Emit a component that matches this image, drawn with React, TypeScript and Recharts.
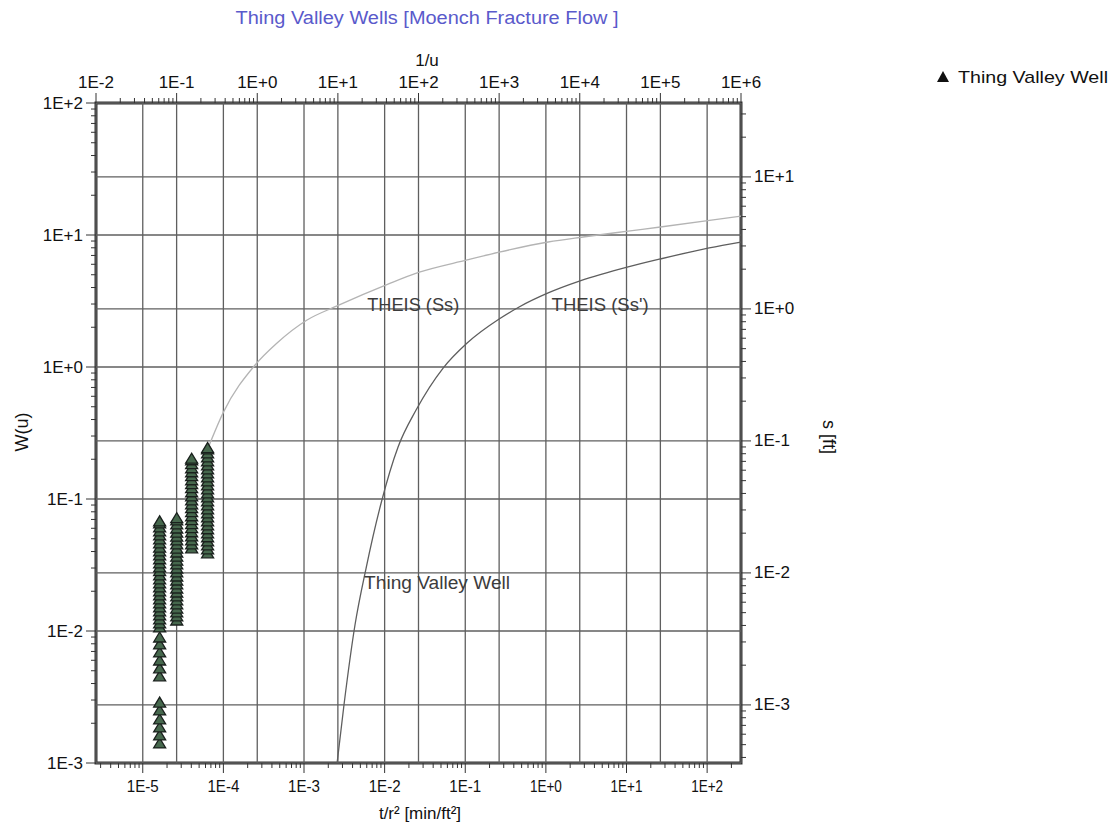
import React from 'react';
import {
  ComposedChart, Line, Scatter, XAxis, YAxis, ReferenceLine, ReferenceArea, ReferenceDot,
} from 'recharts';

const FONT = '"Liberation Sans", Arial, Helvetica, sans-serif';

// axis decades
const invUTicks = [1e-2, 1e-1, 1e0, 1e1, 1e2, 1e3, 1e4, 1e5, 1e6];
const invULabels = ['1E-2', '1E-1', '1E+0', '1E+1', '1E+2', '1E+3', '1E+4', '1E+5', '1E+6'];
const timeTicks = [1e-5, 1e-4, 1e-3, 1e-2, 1e-1, 1e0, 1e1, 1e2];
const timeLabels = ['1E-5', '1E-4', '1E-3', '1E-2', '1E-1', '1E+0', '1E+1', '1E+2'];
const wTicks = [1e-3, 1e-2, 1e-1, 1e0, 1e1, 1e2];
const wLabels = ['1E-3', '1E-2', '1E-1', '1E+0', '1E+1', '1E+2'];
const sTicks = [1e-3, 1e-2, 1e-1, 1e0, 1e1];
const sLabels = ['1E-3', '1E-2', '1E-1', '1E+0', '1E+1'];

const invUDomain = [1e-2, 1e6];
const timeDomain = [10 ** -5.58, 10 ** 2.42];
const wDomain = [1e-3, 1e2];
const sDomain = [10 ** -3.44, 10 ** 1.56];

// type curve, specific storage Ss
const theisSsInvU = [0.25, 0.377, 0.94, 1.76, 4.15, 9.77, 41.2, 100, 401, 1000, 4060, 11000, 39800, 100000, 452000, 1000000];
const theisSsW = [0.25, 0.449, 1.035, 1.52, 2.27, 2.9, 4.22, 5.2, 6.47, 7.41, 8.85, 9.66, 10.7, 11.5, 13.0, 13.9];

// type curve, specific storage Ss'
const theisSs2InvU = [9.78, 11.9, 16.3, 22.4, 34.4, 55.8, 93.3, 202, 401, 1000, 1770, 4060, 10100, 39800, 99500, 403000, 1000000];
const theisSs2W = [0.001, 0.00275, 0.0111, 0.03, 0.0933, 0.248, 0.472, 0.982, 1.52, 2.31, 2.85, 3.64, 4.49, 5.73, 6.58, 7.98, 8.85];

// observed drawdown, Thing Valley Well, one stack per t/r²
const wellTimes = [1.62e-5, 2.64e-5, 4.04e-5, 6.37e-5];
const drawdownA = [
  5.15e-4, 5.93e-4, 6.81e-4, 7.83e-4, 9.16e-4, 1.05e-3,
  1.66e-3, 1.91e-3, 2.19e-3, 2.52e-3, 2.9e-3, 3.27e-3,
  3.9e-3, 4.18e-3, 4.48e-3, 4.81e-3, 5.16e-3, 5.53e-3, 5.93e-3, 6.36e-3, 6.82e-3,
  7.31e-3, 7.84e-3, 8.41e-3, 9.01e-3, 9.67e-3, 1.04e-2, 1.11e-2, 1.19e-2, 1.28e-2,
  1.37e-2, 1.47e-2, 1.57e-2, 1.69e-2, 1.81e-2, 1.94e-2, 2.08e-2, 2.23e-2, 2.39e-2, 2.48e-2,
];
const drawdownB = [
  4.4e-3, 4.72e-3, 5.06e-3, 5.42e-3, 5.82e-3, 6.24e-3, 6.69e-3, 7.17e-3, 7.69e-3,
  8.25e-3, 8.84e-3, 9.48e-3, 1.02e-2, 1.09e-2, 1.17e-2, 1.25e-2, 1.34e-2, 1.44e-2,
  1.54e-2, 1.66e-2, 1.78e-2, 1.9e-2, 2.04e-2, 2.19e-2, 2.35e-2, 2.52e-2, 2.62e-2,
];
const drawdownC = [
  1.55e-2, 1.66e-2, 1.78e-2, 1.91e-2, 2.05e-2, 2.2e-2, 2.36e-2, 2.53e-2, 2.71e-2,
  2.91e-2, 3.12e-2, 3.34e-2, 3.58e-2, 3.84e-2, 4.12e-2, 4.42e-2, 4.74e-2, 5.08e-2,
  5.45e-2, 5.84e-2, 6.26e-2, 6.72e-2, 7.2e-2, 7.4e-2,
];
const drawdownD = [
  1.42e-2, 1.52e-2, 1.63e-2, 1.75e-2, 1.88e-2, 2.01e-2, 2.16e-2, 2.31e-2, 2.48e-2,
  2.66e-2, 2.85e-2, 3.06e-2, 3.28e-2, 3.51e-2, 3.77e-2, 4.04e-2, 4.33e-2, 4.65e-2,
  4.98e-2, 5.34e-2, 5.73e-2, 6.14e-2, 6.59e-2, 7.06e-2, 7.57e-2, 8.12e-2, 8.7e-2, 8.9e-2,
];

const theisSs = theisSsInvU.map((inv, i) => ({ inv, w: theisSsW[i] }));
const theisSs2 = theisSs2InvU.map((inv, i) => ({ inv, w: theisSs2W[i] }));
const wellPoints = [drawdownA, drawdownB, drawdownC, drawdownD].flatMap((col, c) =>
  col.map((s) => ({ t: wellTimes[c], s })));

// log ticks 1..9 x 10^d inside a domain
const logTicks = (lo: number, hi: number) => {
  const out: number[] = [];
  for (let d = Math.floor(Math.log10(lo)); d <= Math.ceil(Math.log10(hi)); d += 1) {
    for (let k = 1; k < 10; k += 1) {
      const v = k * 10 ** d;
      if (v >= lo * 0.9999 && v <= hi * 1.0001) out.push(v);
    }
  }
  return out;
};

const majorIndex = (v: number, majors: number[]) =>
  majors.findIndex((m) => Math.abs(Math.log10(m) - Math.log10(v)) < 1e-6);

const TICK = '#333';

const makeTick = (side: 'top' | 'bottom' | 'left' | 'right', majors: number[], labels: string[]) =>
  (props: any) => {
    const { x, y, payload } = props;
    const i = majorIndex(payload.value, majors);
    const len = i < 0 ? 5 : 10;
    const dir = side === 'top' || side === 'left' ? -1 : 1;
    const vertical = side === 'top' || side === 'bottom';
    const line = vertical
      ? <line x1={x} x2={x} y1={y} y2={y + dir * len} stroke={TICK} strokeWidth={1} />
      : <line x1={x} x2={x + dir * len} y1={y} y2={y} stroke={TICK} strokeWidth={1} />;
    if (i < 0) return <g>{line}</g>;
    let text;
    if (side === 'top') {
      text = <text x={x} y={y - 21} textAnchor="middle" dominantBaseline="central" fontSize={17}>{labels[i]}</text>;
    } else if (side === 'bottom') {
      text = <text x={x} y={y + 23} textAnchor="middle" dominantBaseline="central" fontSize={17} textLength={32} lengthAdjust="spacingAndGlyphs">{labels[i]}</text>;
    } else if (side === 'left') {
      text = <text x={x - 13} y={y} textAnchor="end" dominantBaseline="central" fontSize={17}>{labels[i]}</text>;
    } else {
      text = <text x={x + 13} y={y} textAnchor="start" dominantBaseline="central" fontSize={17}>{labels[i]}</text>;
    }
    return <g fontFamily={FONT} fill="#111">{line}{text}</g>;
  };

const Triangle = (props: any) => {
  const { cx, cy } = props;
  if (cx == null || cy == null) return null;
  return (
    <polygon
      points={`${cx - 6},${cy + 5} ${cx + 6},${cy + 5} ${cx},${cy - 5}`}
      fill="#46684d"
      stroke="#1a201d"
      strokeWidth={1.3}
    />
  );
};

const tag = (text: string, width: number) => (props: any) => {
  const { viewBox } = props;
  const cx = viewBox.x + (viewBox.width || 0) / 2;
  const cy = viewBox.y + (viewBox.height || 0) / 2;
  return (
    <text x={cx} y={cy} textAnchor="middle" dominantBaseline="central" fontFamily={FONT}
      fontSize={18} fill="#3c3c3c" textLength={width} lengthAdjust="spacingAndGlyphs">
      {text}
    </text>
  );
};

const GRID = '#5f5f5f';

export default function App() {
  return (
    <div style={{ position: 'absolute', left: 0, top: 0, width: 1117, height: 829, background: '#fff' }}>
      <ComposedChart
        width={1117}
        height={829}
        margin={{ top: 63, right: 316, bottom: 26, left: 36 }}
      >
        <XAxis xAxisId="top" orientation="top" dataKey="inv" type="number" scale="log"
          domain={invUDomain} allowDataOverflow ticks={logTicks(invUDomain[0], invUDomain[1])}
          interval={0} tickSize={0} tickMargin={0} axisLine={false} tickLine={false} height={40}
          tick={makeTick('top', invUTicks, invULabels)} />
        <XAxis xAxisId="bottom" orientation="bottom" dataKey="t" type="number" scale="log"
          domain={timeDomain} allowDataOverflow ticks={logTicks(timeDomain[0], timeDomain[1])}
          interval={0} tickSize={0} tickMargin={0} axisLine={false} tickLine={false} height={40}
          tick={makeTick('bottom', timeTicks, timeLabels)} />
        <YAxis yAxisId="left" orientation="left" dataKey="w" type="number" scale="log"
          domain={wDomain} allowDataOverflow ticks={logTicks(wDomain[0], wDomain[1])}
          interval={0} tickSize={0} tickMargin={0} axisLine={false} tickLine={false} width={60}
          tick={makeTick('left', wTicks, wLabels)} />
        <YAxis yAxisId="right" orientation="right" dataKey="s" type="number" scale="log"
          domain={sDomain} allowDataOverflow ticks={logTicks(sDomain[0], sDomain[1])}
          interval={0} tickSize={0} tickMargin={0} axisLine={false} tickLine={false} width={60}
          tick={makeTick('right', sTicks, sLabels)} />

        {invUTicks.map((v) => (
          <ReferenceLine key={`gu${v}`} x={v} xAxisId="top" yAxisId="left" stroke={GRID} strokeWidth={1.3} />
        ))}
        {timeTicks.map((v) => (
          <ReferenceLine key={`gt${v}`} x={v} xAxisId="bottom" yAxisId="right" stroke={GRID} strokeWidth={1.3} />
        ))}
        {wTicks.map((v) => (
          <ReferenceLine key={`gw${v}`} y={v} xAxisId="top" yAxisId="left" stroke={GRID} strokeWidth={1.3} />
        ))}
        {sTicks.map((v) => (
          <ReferenceLine key={`gs${v}`} y={v} xAxisId="bottom" yAxisId="right" stroke={GRID} strokeWidth={1.3} />
        ))}

        <Line data={theisSs} dataKey="w" xAxisId="top" yAxisId="left" type="monotone"
          stroke="#b4b4b4" strokeWidth={1.3} dot={false} activeDot={false} isAnimationActive={false} />
        <Line data={theisSs2} dataKey="w" xAxisId="top" yAxisId="left" type="monotone"
          stroke="#5e5e5e" strokeWidth={1.3} dot={false} activeDot={false} isAnimationActive={false} />
        <Scatter data={wellPoints} xAxisId="bottom" yAxisId="right" shape={Triangle}
          isAnimationActive={false} />

        <ReferenceDot x={86} y={2.95} xAxisId="top" yAxisId="left" r={0} fill="none" stroke="none"
          label={tag('THEIS (Ss)', 92)} />
        <ReferenceDot x={17900} y={2.95} xAxisId="top" yAxisId="left" r={0} fill="none" stroke="none"
          label={tag("THEIS (Ss')", 97)} />
        <ReferenceDot x={170} y={0.0231} xAxisId="top" yAxisId="left" r={0} fill="none" stroke="none"
          label={tag('Thing Valley Well', 146)} />

        <ReferenceArea x1={invUDomain[0]} x2={invUDomain[1]} y1={wDomain[0]} y2={wDomain[1]}
          xAxisId="top" yAxisId="left" fill="none" stroke="#333" strokeWidth={3} ifOverflow="visible" />
      </ComposedChart>

      <svg width={1117} height={829} style={{ position: 'absolute', left: 0, top: 0, pointerEvents: 'none' }}
        fontFamily={FONT}>
        <text x={427} y={18} textAnchor="middle" dominantBaseline="central" fontSize={18} fill="#5a5acb"
          textLength={383} lengthAdjust="spacingAndGlyphs">
          Thing Valley Wells [Moench Fracture Flow ]
        </text>
        <text x={427} y={60} textAnchor="middle" dominantBaseline="central" fontSize={17} fill="#111">1/u</text>
        <text x={420} y={813} textAnchor="middle" dominantBaseline="central" fontSize={17} fill="#111">
          t/r² [min/ft²]
        </text>
        <text x={22} y={432} textAnchor="middle" dominantBaseline="central" fontSize={18} fill="#111"
          transform="rotate(-90 22 432)">W(u)</text>
        <text x={829} y={437} textAnchor="middle" dominantBaseline="central" fontSize={18} fill="#111"
          transform="rotate(90 829 437)">s [ft]</text>
        <polygon points="937,82 949,82 943,71" fill="#111" />
        <text x={958} y={77} dominantBaseline="central" fontSize={17} fill="#111"
          textLength={150} lengthAdjust="spacingAndGlyphs">Thing Valley Well</text>
      </svg>
    </div>
  );
}
